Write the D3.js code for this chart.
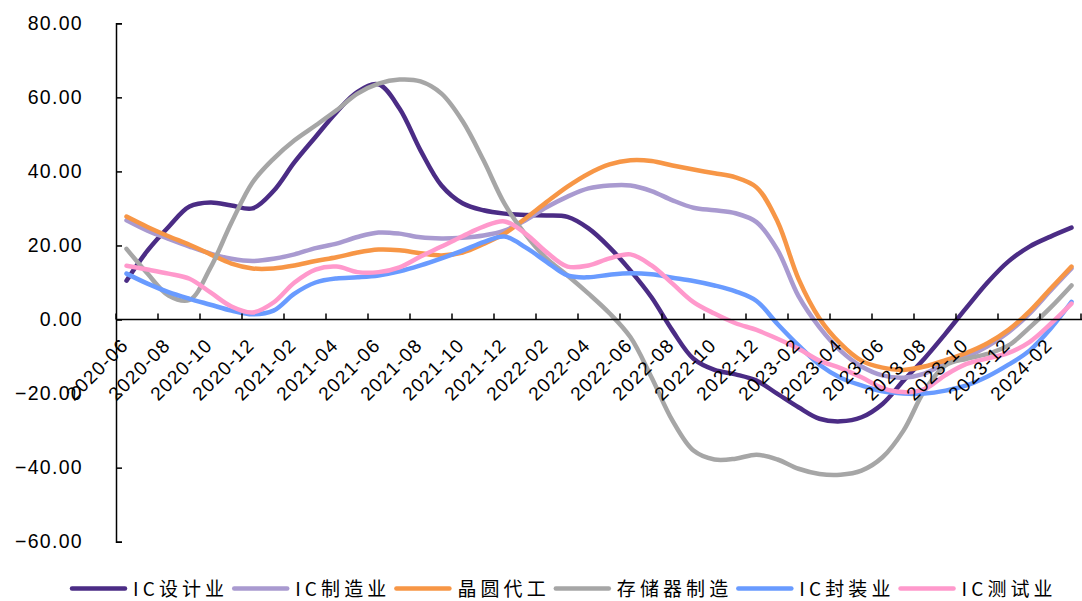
<!DOCTYPE html>
<html>
<head>
<meta charset="utf-8">
<script src="https://cdn.jsdelivr.net/npm/d3@7"></script>
<style>
  body { margin: 0; background: #fff; }
  svg { display: block; }
</style>
</head>
<body>
<div id="chart"></div>
<script>
var svgWidth = 1082;
var svgHeight = 601;

// months on the category axis
var months = [
  "2020-06","2020-07","2020-08","2020-09","2020-10","2020-11","2020-12",
  "2021-01","2021-02","2021-03","2021-04","2021-05","2021-06","2021-07","2021-08","2021-09","2021-10","2021-11","2021-12",
  "2022-01","2022-02","2022-03","2022-04","2022-05","2022-06","2022-07","2022-08","2022-09","2022-10","2022-11","2022-12",
  "2023-01","2023-02","2023-03","2023-04","2023-05","2023-06","2023-07","2023-08","2023-09","2023-10","2023-11","2023-12",
  "2024-01","2024-02","2024-03"
];

var yTicks = [-60, -40, -20, 0, 20, 40, 60, 80];

var seriesNames = ["IC设计业", "IC制造业", "晶圆代工", "存储器制造", "IC封装业", "IC测试业"];
var seriesColors = ["#4b2c85", "#a99ad0", "#f79646", "#a6a6a6", "#699bff", "#ff99cc"];

var icDesign = [10.5, 18.6, 25, 30.5, 31.6, 30.8, 30, 34.7, 42.5, 49.3, 56, 61.5, 63.5, 57, 45.7, 36.2,
  31.4, 29.5, 28.6, 28.2, 28.1, 27.7, 24.6, 19.5, 13.2, 6, -3, -10.6, -13.6, -14.8, -16.5,
  -20.1, -23.7, -26.8, -27.5, -26.4, -22.8, -16.5, -10.5, -3.8, 3.2, 10, 15.7, 19.7, 22.4, 24.8];

var icManufacture = [26.8, 24, 21.8, 19.7, 17.8, 16.4, 15.8, 16.4, 17.6, 19.3, 20.5, 22.3, 23.5, 23.2, 22.2, 21.9,
  22.1, 22.7, 24, 26.8, 30.3, 33.2, 35.4, 36.2, 36.2, 34.7, 32.2, 30.2, 29.5, 28.7, 26.3,
  18.8, 6.3, -2.1, -8.4, -12.7, -15.1, -15.7, -14.6, -11.8, -10, -7.2, -3.4, 1.6, 7.8, 13.8];

var foundry = [27.8, 25, 22.5, 20.2, 17.6, 15.1, 13.8, 13.8, 14.6, 15.8, 16.8, 18.1, 18.9, 18.7, 17.9, 17.3,
  18.1, 20.4, 23.2, 27.3, 31.7, 35.9, 39.4, 41.9, 43, 42.8, 41.6, 40.5, 39.5, 38.4, 35.7,
  26.5, 11, 0.3, -6.5, -11.1, -13, -13.6, -12.7, -11, -9, -6.4, -2.8, 2.2, 8.3, 14.3];

var memory = [19.1, 12.4, 6.5, 5.3, 14, 26.2, 37, 43.4, 48.4, 52.4, 56.5, 61, 63.7, 64.8, 64.3, 61,
  53.6, 43, 31.3, 23, 16.5, 11.9, 7, 1.7, -4.8, -15.6, -27.3, -35.4, -37.8, -37.6, -36.5,
  -37.8, -40.3, -41.7, -41.9, -40.8, -37.2, -30, -19.2, -12.4, -10.6, -9.3, -7, -2.2, 3.2, 9.2];

var packaging = [12.4, 9.7, 7.4, 5.6, 4, 2.4, 1.4, 2.4, 7, 10, 11.1, 11.4, 11.9, 13, 14.6, 16.5,
  18.6, 20.9, 22.4, 19.5, 15.6, 11.9, 11.4, 12.1, 12.5, 12.2, 11.3, 10.4, 9.2, 7.6, 5,
  -1.2, -7, -12.2, -15.7, -17.8, -19.4, -20, -20, -19.2, -17.8, -15.4, -12.2, -8.4, -2.5, 4.8];

var testing = [14.5, 13.5, 12.4, 11, 7.3, 3.5, 1.9, 4.6, 10, 13.5, 14.3, 12.8, 12.8, 14.1, 17, 19.7,
  22.5, 25.1, 26.5, 23.2, 18.2, 14.3, 14.6, 16.5, 17.6, 14.6, 9.7, 4.7, 1.6, -1, -2.8,
  -5.2, -7.9, -11.1, -13.1, -15.6, -18.5, -19.6, -18.8, -15, -12, -10.5, -9, -6.1, -1.2, 4.3];

var seriesValues = [icDesign, icManufacture, foundry, memory, packaging, testing];

var svg = d3.select("#chart")
  .append("svg")
  .attr("width", svgWidth)
  .attr("height", svgHeight);

svg.append("rect")
  .attr("width", svgWidth)
  .attr("height", svgHeight)
  .attr("fill", "#fff");

// scales
var xScale = d3.scaleBand()
  .domain(months)
  .range([116, 1082])
  .padding(0);

var yScale = d3.scaleLinear()
  .domain([-60, 80])
  .range([541.7, 23.3]);

var xMid = d => xScale(d) + xScale.bandwidth() / 2;

var tickFont = "'Liberation Sans', Arial, sans-serif";

// Y AXIS
var leftAxis = d3.axisLeft(yScale)
  .tickValues(yTicks)
  .tickSizeInner(-6)
  .tickSizeOuter(-6)
  .tickPadding(33)
  .tickFormat(d3.format(".2f"));

var yAxis = svg.append("g")
  .attr("transform", "translate(116,0)")
  .call(leftAxis);

yAxis.select(".domain").attr("stroke", "#000").attr("stroke-width", 1.5);
yAxis.selectAll(".tick line").attr("stroke", "#000").attr("stroke-width", 1.5);
yAxis.selectAll(".tick text")
  .attr("fill", "#000")
  .style("font-family", tickFont)
  .style("font-size", "19.5px")
  .style("letter-spacing", "1.3px");

// X AXIS (line at zero)
var y0 = yScale(0);
var xAxis = svg.append("g").attr("class", "x-axis");

xAxis.append("line")
  .attr("x1", 116)
  .attr("x2", 1082)
  .attr("y1", y0)
  .attr("y2", y0)
  .attr("stroke", "#000")
  .attr("stroke-width", 1.5);

var labelMonths = months.filter((m, i) => i % 2 === 0);

xAxis.selectAll(".xtick")
  .data(labelMonths.concat(["end"]))
  .enter()
  .append("line")
  .attr("class", "xtick")
  .attr("x1", d => d === "end" ? 1081 : xScale(d))
  .attr("x2", d => d === "end" ? 1081 : xScale(d))
  .attr("y1", y0)
  .attr("y2", y0 - 6)
  .attr("stroke", "#000")
  .attr("stroke-width", 1.5);

// LINES
var line = d3.line()
  .x((d, i) => xMid(months[i]))
  .y(d => yScale(d))
  .curve(d3.curveCatmullRom.alpha(0.5));

svg.append("g")
  .selectAll("path")
  .data(seriesValues)
  .enter()
  .append("path")
  .attr("d", d => line(d))
  .attr("fill", "none")
  .attr("stroke", (d, i) => seriesColors[i])
  .attr("stroke-width", 4.5)
  .attr("stroke-linecap", "round")
  .attr("stroke-linejoin", "round");

// x labels drawn over the lines
xAxis.raise();
xAxis.selectAll(".xlabel")
  .data(labelMonths)
  .enter()
  .append("text")
  .attr("class", "xlabel")
  .attr("transform", d => `translate(${xMid(d) + 3}, ${y0 + 27}) rotate(-45)`)
  .attr("text-anchor", "end")
  .style("font-family", tickFont)
  .style("font-size", "19px")
  .style("letter-spacing", "1.2px")
  .attr("fill", "#000")
  .text(d => d);

// LEGEND
var legend = svg.append("g").attr("class", "legend");
var legendY = 587.5;
var cursor = 72;

seriesNames.forEach(function(name, i) {
  legend.append("line")
    .attr("x1", cursor)
    .attr("x2", cursor + 53)
    .attr("y1", legendY + 1)
    .attr("y2", legendY + 1)
    .attr("stroke", seriesColors[i])
    .attr("stroke-width", 4.5)
    .attr("stroke-linecap", "round");

  var label = legend.append("text")
    .attr("x", cursor + 61)
    .attr("y", legendY)
    .attr("dominant-baseline", "central")
    .style("font-family", "'Noto Sans CJK SC', sans-serif")
    .style("font-size", "19px")
    .style("letter-spacing", "4.1px")
    .attr("fill", "#000")
    .text(name);

  cursor = cursor + 61 + label.node().getComputedTextLength() + 6;
});
</script>
</body>
</html>
